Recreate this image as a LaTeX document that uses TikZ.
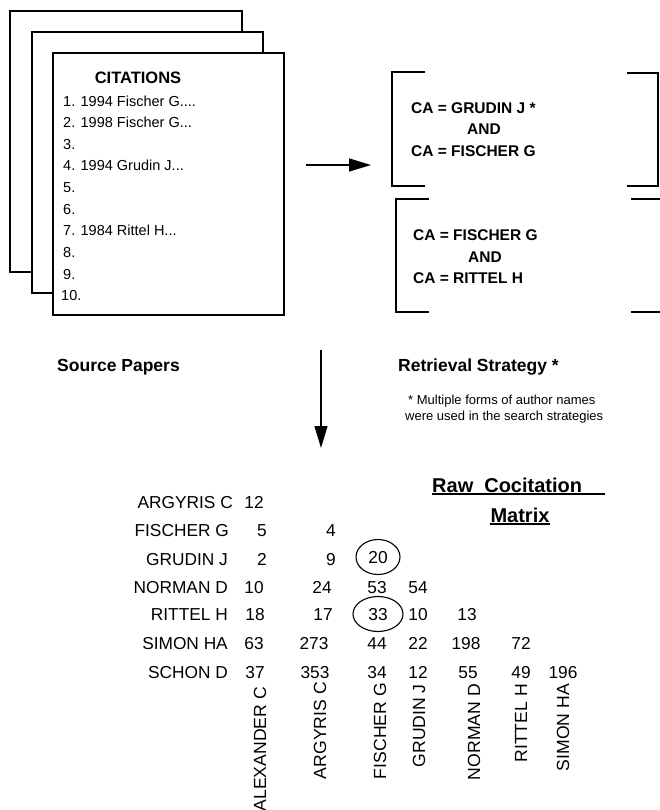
\documentclass[tikz,border=0pt]{standalone}
\usepackage{fontspec}
\setmainfont{Liberation Sans}
\usetikzlibrary{arrows.meta,shapes.geometric}

\begin{document}
\begin{tikzpicture}[x=1pt,y=-1pt,
  page/.style={draw=black,fill=white,line width=1.3pt},
  rule/.style={draw=black,line width=1.3pt},
  item/.style={font=\fontsize{14.5}{17}\selectfont,anchor=west,inner sep=0pt,text height=10.4pt,text depth=0pt},
  cite/.style={font=\bfseries\fontsize{16.5}{19}\selectfont,inner sep=0pt,text height=11.8pt,text depth=0pt},
  query/.style={font=\bfseries\fontsize{15.5}{18}\selectfont,inner sep=0pt,text height=11.1pt,text depth=0pt},
  head/.style={font=\bfseries\fontsize{17.5}{20}\selectfont,anchor=west,inner sep=0pt,text height=12.5pt,text depth=0pt},
  title/.style={font=\bfseries\fontsize{20}{24}\selectfont,inner sep=0pt,text height=14.3pt,text depth=0pt},
  note/.style={font=\fontsize{13}{15}\selectfont,anchor=west,inner sep=0pt,text height=9.3pt,text depth=0pt},
  cell/.style={font=\fontsize{17.3}{20}\selectfont,inner sep=0pt,text height=12.4pt,text depth=0pt},
  rowlab/.style={cell,anchor=east},
  collab/.style={cell,font=\fontsize{17.6}{20}\selectfont,rotate=90,anchor=east},
  ring/.style={draw,ellipse,line width=1.1pt,minimum height=35pt},
  flow/.style={line width=1.3pt,-{Triangle[length=22pt,width=13pt]}}]

\useasboundingbox (0,0) rectangle (660,810);

% stack of source papers
\draw[page] (10,11) rectangle (242,272);
\draw[page] (32,32) rectangle (263,293);
\draw[page] (53,53) rectangle (284,315);

\node[cite] (cit) at (138,78) {CITATIONS};
\node[item] (it1) at (63,101.0) {1. 1994 Fischer G....};
\node[item] (it2) at (63,122.6) {2. 1998 Fischer G...};
\node[item] (it3) at (63,144.2) {3.};
\node[item] (it4) at (63,165.8) {4. 1994 Grudin J...};
\node[item] (it5) at (63,187.4) {5.};
\node[item] (it6) at (63,209.0) {6.};
\node[item] (it7) at (63,230.6) {7. 1984 Rittel H...};
\node[item] (it8) at (63,252.2) {8.};
\node[item] (it9) at (63,273.8) {9.};
\node[item] (it10) at (61,295.4) {10.};

% arrow to the retrieval strategy
\coordinate (a1) at (306,165);
\coordinate (a2) at (371,165);
\draw[flow] (a1) -- (a2);

% search brackets
\draw[rule] (425,72) -- (392,72) -- (392,186) -- (425,186);
\draw[rule] (627,73) -- (658,73) -- (658,186) -- (627,186);
\draw[rule] (429,199) -- (396,199) -- (396,312) -- (429,312);
\draw[rule] (631,199) -- (660,199);
\draw[rule] (631,312) -- (660,312);

\node[query,anchor=west] (q1a) at (411,108) {CA = GRUDIN J *};
\node[query] (q1b) at (484,129) {AND};
\node[query,anchor=west] (q1c) at (411,151) {CA = FISCHER G};
\node[query,anchor=west] (q2a) at (413,235) {CA = FISCHER G};
\node[query] (q2b) at (485,257) {AND};
\node[query,anchor=west] (q2c) at (413,278) {CA = RITTEL H};

% captions
\node[head] (src) at (57,365) {Source Papers};
\node[head] (ret) at (398,365) {Retrieval Strategy *};
\node[note] (n1) at (408,400) {* Multiple forms of author names};
\node[note] (n2) at (405,416) {were used in the search strategies};

% arrow down to the matrix
\coordinate (d1) at (321,350);
\coordinate (d2) at (321,448);
\draw[flow] (d1) -- (d2);

% matrix title
\node[title,anchor=west] (raw) at (432,485) {Raw\hspace{0.55em}Cocitation};
\draw[line width=1.6pt] (432,494) -- (605,494);
\node[title] (mat) at (520,515) {Matrix};
\draw[line width=1.6pt] (490,524) -- (550,524);

% row labels
\node[rowlab] (rA) at (233,502) {ARGYRIS C};
\node[rowlab] (rF) at (229,530) {FISCHER G};
\node[rowlab] (rG) at (228,559) {GRUDIN J};
\node[rowlab] (rN) at (228,587) {NORMAN D};
\node[rowlab] (rR) at (228,614) {RITTEL H};
\node[rowlab] (rS) at (228,643) {SIMON HA};
\node[rowlab] (rC) at (228,672) {SCHON D};

% counts
\node[cell] (c11) at (254,502) {12};
\node[cell] (c21) at (262,530) {5};
\node[cell] (c22) at (331,530) {4};
\node[cell] (c31) at (262,559) {2};
\node[cell] (c32) at (331,559) {9};
\node[cell,ring,minimum width=44pt] (c33) at (378,557) {20};
\node[cell] (c41) at (254,587) {10};
\node[cell] (c42) at (322,587) {24};
\node[cell] (c43) at (377,587) {53};
\node[cell] (c44) at (418,587) {54};
\node[cell] (c51) at (255,614) {18};
\node[cell] (c52) at (323,614) {17};
\node[cell,ring,minimum width=50pt] (c53) at (378,614) {33};
\node[cell] (c54) at (418,614) {10};
\node[cell] (c55) at (467,614) {13};
\node[cell] (c61) at (254,643) {63};
\node[cell] (c62) at (314,643) {273};
\node[cell] (c63) at (377,643) {44};
\node[cell] (c64) at (418,643) {22};
\node[cell] (c65) at (466,643) {198};
\node[cell] (c66) at (521,643) {72};
\node[cell] (c71) at (255,672) {37};
\node[cell] (c72) at (315,672) {353};
\node[cell] (c73) at (377,672) {34};
\node[cell] (c74) at (418,672) {12};
\node[cell] (c75) at (468,672) {55};
\node[cell] (c76) at (521,672) {49};
\node[cell] (c77) at (563,672) {196};

% column labels
\node[collab] (kA) at (260,687) {ALEXANDER C};
\node[collab] (kR) at (320,682) {ARGYRIS C};
\node[collab] (kF) at (380,683) {FISCHER G};
\node[collab] (kG) at (419,684) {GRUDIN J};
\node[collab] (kN) at (474,684) {NORMAN D};
\node[collab] (kT) at (521,684) {RITTEL H};
\node[collab] (kS) at (563,684) {SIMON HA};
\end{tikzpicture}
\end{document}
